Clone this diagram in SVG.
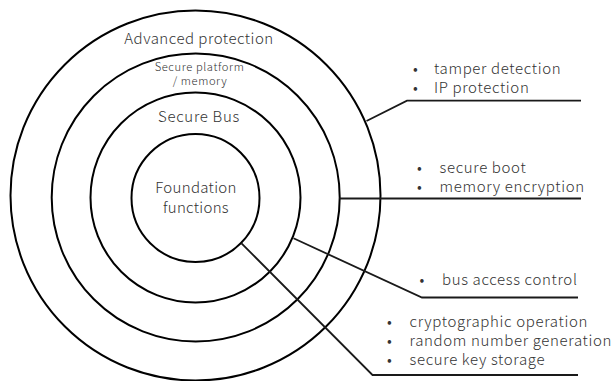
<svg xmlns="http://www.w3.org/2000/svg" width="613" height="381" viewBox="0 0 613 381">
<style>
.ring{fill:none;stroke:#000;stroke-width:2}
.con{fill:none;stroke:#1a1a1a;stroke-width:1.8}
text{font-family:"Noto Sans CJK JP","Noto Sans",sans-serif;fill:#333;font-weight:300}
.lbl{font-size:15px;text-anchor:middle}
.sm{font-size:11.2px;text-anchor:middle;letter-spacing:0.6px}
.bl{font-size:15px;letter-spacing:0.65px}
</style>
<rect width="613" height="381" fill="#fff"/>
<g id="ring-advanced"><circle class="ring" cx="195.5" cy="195.5" r="185"/><text class="lbl" x="199" y="43.5" letter-spacing="0.5">Advanced protection</text></g>
<g id="ring-platform"><circle class="ring" cx="195.7" cy="197.5" r="144"/><text class="sm" x="199.5" y="70.5">Secure platform</text><text class="sm" x="200" y="85">/ memory</text></g>
<g id="ring-bus"><circle class="ring" cx="195.5" cy="197.5" r="105"/><text class="lbl" x="199" y="122" letter-spacing="0.7">Secure Bus</text></g>
<g id="ring-foundation"><circle class="ring" cx="195.5" cy="198" r="64"/><text class="lbl" x="196" y="193" letter-spacing="0.3">Foundation</text><text class="lbl" x="196" y="213" letter-spacing="0.3">functions</text></g>
<g id="connectors">
<polyline class="con" points="366.5,121 407,100.7 581,100.7"/>
<polyline class="con" points="339.5,198.5 581,198.5"/>
<polyline class="con" points="293.5,238.3 422,297.5 578,297.5"/>
<polyline class="con" points="241.5,243.3 372.5,375 578,375"/>
</g>
<g id="note-advanced"><text class="bl" x="413" y="73.5">•</text><text class="bl" x="434" y="73.5">tamper detection</text><text class="bl" x="413" y="93">•</text><text class="bl" x="434" y="93">IP protection</text></g>
<g id="note-platform"><text class="bl" x="417" y="173">•</text><text class="bl" x="439.5" y="173">secure boot</text><text class="bl" x="417" y="192">•</text><text class="bl" x="439.5" y="192">memory encryption</text></g>
<g id="note-bus"><text class="bl" x="419.5" y="285">•</text><text class="bl" x="442" y="285">bus access control</text></g>
<g id="note-foundation"><text class="bl" x="387" y="327">•</text><text class="bl" x="409.5" y="327">cryptographic operation</text><text class="bl" x="387" y="346">•</text><text class="bl" x="409.5" y="346">random number generation</text><text class="bl" x="387" y="365">•</text><text class="bl" x="409.5" y="365">secure key storage</text></g>
</svg>
